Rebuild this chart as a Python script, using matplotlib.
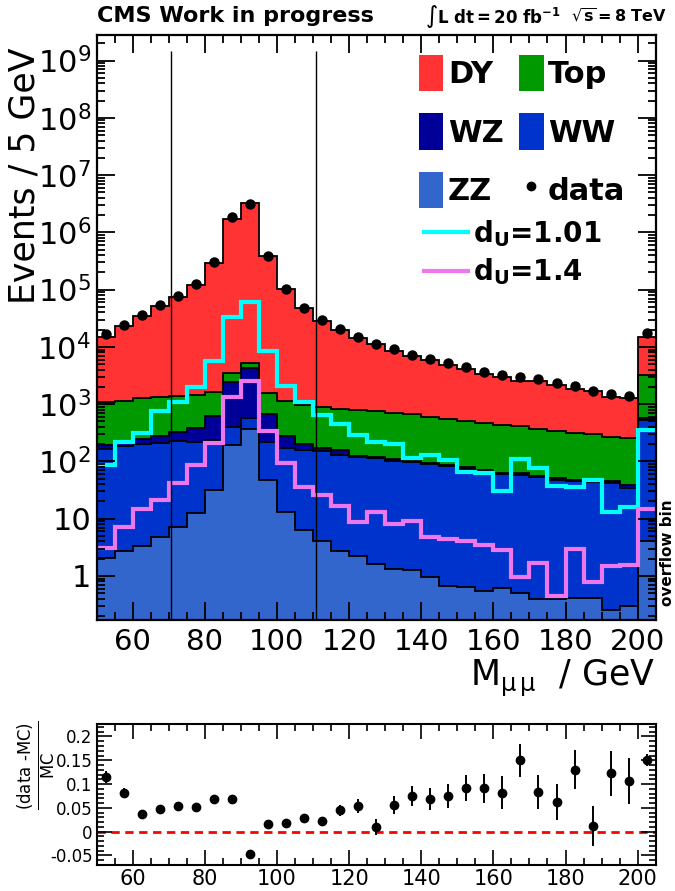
import numpy as np
import matplotlib
matplotlib.use('Agg')
import matplotlib.pyplot as plt
from matplotlib.patches import Patch
from matplotlib.lines import Line2D
from matplotlib.ticker import MultipleLocator, FixedLocator, FuncFormatter, NullFormatter

# ---------------- data ----------------
bin_lo = 50
bin_hi = 205          # last bin (200-205) is the overflow bin
bin_w = 5

dy = [14100, 21600, 33700, 49700, 71600, 118500, 288300, 1696500, 3244700, 378400,
      99800, 46300, 27900, 19000, 13400, 10560, 7900, 6130, 5215, 4300,
      3580, 2910, 2615, 2180, 2120, 1840, 1520, 1360, 1090, 1015, 11810]
top = [889, 949, 1008, 1044, 1036, 1074, 1054, 988, 1084, 928,
       885, 747, 739, 673, 671, 623, 586, 567, 491, 460,
       420, 396, 361, 345, 315, 283, 264, 257, 221, 217, 2720]
wz = [31, 26, 45, 72, 102, 158, 377, 2090, 3676, 452,
      102, 41, 22, 25, 7, 8, 8, 7, 4, 5,
      6, 6, 3, 4, 3, 3, 3, 3, 3, 4, 37]
ww = [162, 180, 200, 204, 216, 210, 200, 199, 198, 169,
      158, 154, 145, 128, 117, 112, 102, 95, 89, 81,
      72, 63.5, 60.4, 58.5, 52.6, 47.6, 44.6, 43.6, 41.8, 33.7, 529]
zz = [2.06, 2.7, 3.3, 4.7, 7.3, 12.6, 32, 196, 372, 48,
      12.9, 6.26, 4.03, 2.69, 2.26, 1.62, 1.32, 1.29, 0.95, 0.68,
      0.63, 0.54, 0.62, 0.50, 0.40, 0.39, 0.41, 0.41, 0.25, 0.30, 4.13]
data = [16900, 24600, 36300, 53400, 76900, 126000, 310000, 1820000, 3100000, 386000,
        103000, 48600, 29400, 20700, 15000, 11400, 9080, 7310, 6200, 5210,
        4460, 3690, 3290, 2980, 2700, 2310, 2070, 1680, 1530, 1410, 17400]
unp_101 = [85, 214, 312, 745, 1069, 2033, 5700, 33800, 61800, 8500,
           2090, 1084, 652, 448, 292, 214, 201, 117, 129, 107,
           66, 64, 31, 111, 77, 37, 36, 47, 13.1, 15.8, 347]
unp_14 = [3.08, 7.06, 14.7, 20.9, 41.9, 87.5, 209, 1324, 2553, 343,
          93.5, 35.7, 25.5, 16.4, 8.63, 13.1, 7.96, 9.1, 4.85, 4.42,
          4.03, 3.47, 2.84, 0.94, 1.66, 0.45, 2.92, 0.77, 1.49, 1.58, 14.9]
ratio = [0.115, 0.081, 0.038, 0.047, 0.054, 0.052, 0.068, 0.069, -0.046, 0.017,
         0.019, 0.029, 0.022, 0.045, 0.054, 0.010, 0.056, 0.075, 0.069, 0.075,
         0.092, 0.091, 0.082, 0.150, 0.084, 0.063, 0.130, 0.012, 0.123, 0.107, 0.150]
ratio_err = [0.013, 0.010, 0.005, 0.005, 0.005, 0.005, 0.004, 0.002, 0.002, 0.004,
             0.005, 0.006, 0.008, 0.012, 0.014, 0.016, 0.019, 0.021, 0.023, 0.025,
             0.027, 0.030, 0.035, 0.035, 0.036, 0.038, 0.041, 0.042, 0.047, 0.048, 0.013]
cut_lines = [70.7, 110.8]
y_decades = list(range(0, 10))

# ---------------- style ----------------
plt.rcParams['font.family'] = ['DejaVu Sans']
c_dy, c_top, c_wz, c_ww, c_zz = '#ff3333', '#009900', '#000099', '#0033cc', '#3366cc'
c_u1, c_u2 = '#00ffff', '#ee77ee'

edges = np.arange(bin_lo, bin_hi + bin_w, bin_w)
centers = edges[:-1] + bin_w / 2.0
ymin, ymax = 0.17, 2.8e9

fig = plt.figure(figsize=(6.75, 8.91), dpi=100)
L, R = 96.6 / 675, 655.7 / 675
ax = fig.add_axes([L, 1 - 620 / 891, R - L, (620 - 35) / 891])
ax2 = fig.add_axes([L, 1 - 865 / 891, R - L, (865 - 724.3) / 891])

# stacked histograms
procs = [(zz, c_zz), (ww, c_ww), (wz, c_wz), (top, c_top), (dy, c_dy)]
cum = np.zeros(len(zz))
for vals, col in procs:
    new = cum + np.asarray(vals, dtype=float)
    base = np.maximum(cum, ymin * 0.5)
    ax.stairs(new, edges, baseline=base, fill=True, color=col, lw=0)
    cum = new
cum = np.zeros(len(zz))
for vals, col in procs:
    cum = cum + np.asarray(vals, dtype=float)
    ax.stairs(cum, edges, baseline=None, color='black', lw=1.3)

ax.stairs(unp_101, edges, baseline=None, color=c_u1, lw=3)
ax.stairs(unp_14, edges, baseline=None, color=c_u2, lw=3)
ax.plot(centers, data, 'o', color='black', ms=6.5, zorder=5)
ax.vlines(cut_lines, ymin, 1.5e9, color='black', lw=1.0)

ax.set_yscale('log')
ax.set_xlim(bin_lo, bin_hi)
ax.set_ylim(ymin, ymax)

def ylab(v, pos):
    e = int(round(np.log10(v)))
    if e == 0:
        return '1'
    if e == 1:
        return '10'
    return r'$10^{%d}$' % e

ax.yaxis.set_major_locator(FixedLocator([10.0 ** e for e in y_decades]))
ax.yaxis.set_major_formatter(FuncFormatter(ylab))
minors = [m * 10.0 ** e for e in range(-1, 10) for m in range(2, 10)]
ax.yaxis.set_minor_locator(FixedLocator(minors))
ax.yaxis.set_minor_formatter(NullFormatter())
ax.xaxis.set_major_locator(MultipleLocator(20))
ax.xaxis.set_minor_locator(MultipleLocator(5))
ax.tick_params(which='both', direction='in', top=True, right=True, width=1.3)
ax.tick_params(which='major', length=13)
ax.tick_params(which='minor', length=6)
ax.tick_params(axis='x', labelsize=21, pad=6)
ax.tick_params(axis='y', labelsize=22, pad=4)
for s in ax.spines.values():
    s.set_linewidth(1.6)

# legends
h_dy = Patch(facecolor=c_dy, edgecolor='none', label='DY')
h_top = Patch(facecolor=c_top, edgecolor='none', label='Top')
h_wz = Patch(facecolor=c_wz, edgecolor='none', label='WZ')
h_ww = Patch(facecolor=c_ww, edgecolor='none', label='WW')
h_zz = Patch(facecolor=c_zz, edgecolor='none', label='ZZ')
h_data = Line2D([], [], marker='o', ls='none', color='black', ms=6, label='data')
leg1 = fig.legend(handles=[h_dy, h_wz, h_zz, h_top, h_ww, h_data], ncol=2,
                  loc='upper left', bbox_to_anchor=(419 / 675, 1 - 55 / 891),
                  frameon=False, prop={'weight': 'bold', 'size': 22},
                  handlelength=0.8, handleheight=1.45, handletextpad=0.15,
                  labelspacing=0.72, columnspacing=0.5, borderpad=0, borderaxespad=0)
h_u1 = Line2D([], [], color=c_u1, lw=3, label=r'$\mathbf{d}_{\mathbf{U}}$=1.01')
h_u2 = Line2D([], [], color=c_u2, lw=3, label=r'$\mathbf{d}_{\mathbf{U}}$=1.4')
leg2 = fig.legend(handles=[h_u1, h_u2], loc='upper left',
                  bbox_to_anchor=(424 / 675, 1 - 218 / 891),
                  frameon=False, prop={'weight': 'bold', 'size': 20},
                  handlelength=1.6, handletextpad=0.15, labelspacing=0.28,
                  borderpad=0, borderaxespad=0)

# texts
fig.text(97 / 675, 1 - 16 / 891, 'CMS Work in progress', fontweight='bold',
         fontsize=16, va='center', ha='left')
fig.text(425 / 675, 1 - 16 / 891, r'$\mathbf{\int L\ dt = 20\ fb^{-1}}$',
         fontsize=12, va='center', ha='left')
fig.text(667 / 675, 1 - 16 / 891, r'$\mathbf{\sqrt{s}=8\ TeV}$',
         fontsize=11.5, va='center', ha='right')
fig.text(25 / 675, 1 - 176 / 891, 'Events / 5 GeV', rotation=90, fontsize=25,
         ha='center', va='center')
fig.text(655 / 675, 1 - 678 / 891, r'M$_{\mathrm{μ\,μ}}$  / GeV', fontsize=25,
         ha='right', va='center')
fig.text(667 / 675, 1 - 553 / 891, 'overflow bin', rotation=90, fontweight='bold',
         fontsize=11, ha='center', va='center')

# ratio panel
ax2.axhline(0, color='red', ls=(0, (3, 2)), lw=2, zorder=1)
ax2.errorbar(centers, ratio, yerr=ratio_err, fmt='o', color='black', ms=6,
             elinewidth=1.4, capsize=0, zorder=3)
ax2.set_xlim(bin_lo, bin_hi)
ax2.set_ylim(-0.07, 0.2256)
ax2.xaxis.set_major_locator(MultipleLocator(20))
ax2.xaxis.set_minor_locator(MultipleLocator(5))
ax2.yaxis.set_major_locator(MultipleLocator(0.05))
ax2.yaxis.set_minor_locator(MultipleLocator(0.01))

def rlab(v, pos):
    v = round(v, 3)
    if abs(v) < 1e-9:
        return '0'
    return '%g' % v

ax2.yaxis.set_major_formatter(FuncFormatter(rlab))
ax2.tick_params(which='both', direction='in', top=True, right=True, width=1.2)
ax2.tick_params(which='major', length=11)
ax2.tick_params(which='minor', length=5)
ax2.tick_params(axis='x', labelsize=15, pad=3)
ax2.tick_params(axis='y', labelsize=12, pad=3)
for s in ax2.spines.values():
    s.set_linewidth(1.5)
fig.text(37 / 675, 1 - 765 / 891, r'$\frac{\mathrm{(data\ ‐MC)}}{\mathrm{MC}}$',
         rotation=90, fontsize=17, ha='center', va='center')

fig.savefig('out.png', dpi=100)
